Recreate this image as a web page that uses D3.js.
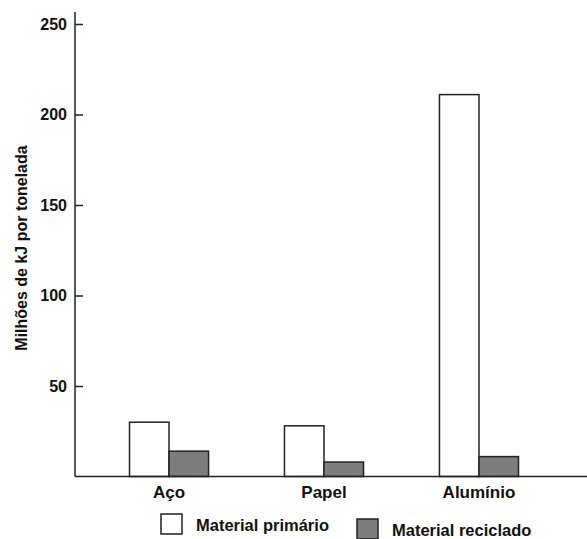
<!DOCTYPE html>
<html>
<head>
<meta charset="utf-8">
<script src="https://cdn.jsdelivr.net/npm/d3@7"></script>
<style>
  body { margin: 0; background: #fff; }
  text { font-family: "Liberation Sans", Arial, sans-serif; font-weight: bold; fill: #111; }
</style>
</head>
<body>
<div id="wrapper"></div>
<script>
const categories = ["Aço", "Papel", "Alumínio"]
const primario = [30, 28, 211]
const reciclado = [14, 8, 11]
const yTicks = [50, 100, 150, 200, 250]
const seriesNames = ["Material primário", "Material reciclado"]

function drawChart() {
  const dimensions = {
    width: 587,
    height: 539,
    margin: { top: 12, right: 0, bottom: 62, left: 75 }
  }
  dimensions.boundedWidth = dimensions.width - dimensions.margin.left - dimensions.margin.right
  dimensions.boundedHeight = dimensions.height - dimensions.margin.top - dimensions.margin.bottom

  const colors = ["#ffffff", "#7d7d7d"]

  const wrapper = d3.select("#wrapper")
    .append("svg")
      .attr("width", dimensions.width)
      .attr("height", dimensions.height)

  const bounds = wrapper.append("g")
    .attr("transform", `translate(${dimensions.margin.left},${dimensions.margin.top})`)

  // 0 sits on the baseline, 250 about 12px below the top of the axis line
  const yScale = d3.scaleLinear()
    .domain([0, 250])
    .range([dimensions.boundedHeight - 0.5, 12])

  const xScale = d3.scaleBand()
    .domain(categories)
    .range([54.5, 443.5])
    .paddingInner(0.49)
    .paddingOuter(0)

  const xSub = d3.scaleBand()
    .domain(seriesNames)
    .range([0, xScale.bandwidth()])

  // bars
  const groups = bounds.selectAll(".group")
    .data(categories)
    .enter().append("g")
      .attr("class", "group")
      .attr("transform", d => `translate(${xScale(d)},0)`)

  groups.selectAll("rect")
    .data((d, i) => [
      { key: seriesNames[0], value: primario[i] },
      { key: seriesNames[1], value: reciclado[i] }
    ])
    .enter().append("rect")
      .attr("x", d => xSub(d.key))
      .attr("y", d => yScale(d.value))
      .attr("width", xSub.bandwidth())
      .attr("height", d => yScale(0) - yScale(d.value))
      .attr("fill", (d, i) => colors[i])
      .attr("stroke", "#222")
      .attr("stroke-width", 1.5)

  // y axis, ticks pointing inward
  const yAxisGenerator = d3.axisRight(yScale)
    .tickValues(yTicks)
    .tickSize(8)
    .tickFormat(d3.format("d"))

  const yAxis = bounds.append("g").call(yAxisGenerator)
  yAxis.select(".domain").remove()
  yAxis.selectAll(".tick line").attr("stroke", "#222").attr("stroke-width", 1.5)
  yAxis.selectAll(".tick text")
    .attr("x", -8)
    .attr("text-anchor", "end")
    .style("font-size", "16px")

  bounds.append("line")
    .attr("x1", 0).attr("x2", 0)
    .attr("y1", 0).attr("y2", yScale(0))
    .attr("stroke", "#222").attr("stroke-width", 1.5)

  // x axis line + category labels
  bounds.append("line")
    .attr("x1", 0).attr("x2", dimensions.boundedWidth)
    .attr("y1", yScale(0)).attr("y2", yScale(0))
    .attr("stroke", "#222").attr("stroke-width", 1.5)

  const xAxisGenerator = d3.axisBottom(xScale).tickSize(0).tickPadding(9)
  const xAxis = bounds.append("g")
    .attr("transform", `translate(0,${yScale(0)})`)
    .call(xAxisGenerator)
  xAxis.select(".domain").remove()
  xAxis.selectAll(".tick text").style("font-size", "17px")

  // y label
  wrapper.append("text")
    .attr("transform", "translate(27,248) rotate(-90)")
    .attr("text-anchor", "middle")
    .style("font-size", "16px")
    .text("Milhões de kJ por tonelada")

  // legend
  const legend = wrapper.append("g").attr("id", "legend")
  const legendPos = [[161, 514], [357, 519]]
  seriesNames.forEach((name, i) => {
    legend.append("rect")
      .attr("x", legendPos[i][0])
      .attr("y", legendPos[i][1])
      .attr("width", 21)
      .attr("height", 20)
      .attr("fill", colors[i])
      .attr("stroke", "#222")
      .attr("stroke-width", 1.5)
    legend.append("text")
      .attr("x", legendPos[i][0] + 35)
      .attr("y", legendPos[i][1] + 17)
      .style("font-size", "16.5px")
      .text(name)
  })
}

drawChart()
</script>
</body>
</html>
